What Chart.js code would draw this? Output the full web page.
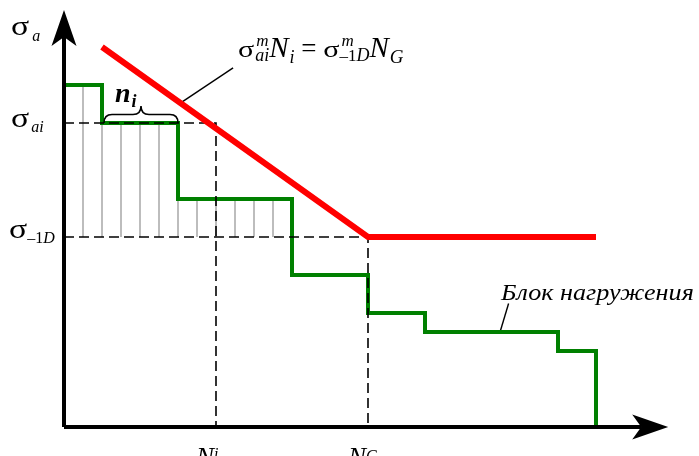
<!DOCTYPE html>
<html>
<head>
<meta charset="utf-8">
<script src="https://cdn.jsdelivr.net/npm/chart.js@4.4.1/dist/chart.umd.min.js"></script>
<style>
  html, body { margin: 0; padding: 0; background: #fff; }
  #wrap { width: 699px; height: 456px; }
</style>
</head>
<body>
<div id="wrap"><canvas id="c" width="699" height="456"></canvas></div>
<script>
// Loading block: stress level of each step and the cycle counts where the steps change
const blockLevels = [180, 160, 120, 80, 60, 50, 40];
const blockEdges  = [0, 20, 60, 120, 160, 190, 260, 280];

// Fatigue curve: sloped branch down to the knee point, then the endurance limit
const curveX = [20, 160, 280];
const curveY = [200, 100, 100];

// Reference levels
const sigmaAi = 160, Ni = 80;     // level i and its life
const sigma1D = 100, NG = 160;    // endurance limit and knee life

// Counting marks drawn under the block, above the endurance limit
const hatchX = [10, 20, 30, 40, 50, 60, 70, 80, 90, 100, 110];

// Axis extents (arrow tips)
const axisTipX = 318, axisTipY = 220;

// Leader lines for the two callouts
const formulaLeader = [[89, 189], [62, 171]];
const blockLeader   = [[234, 65], [229.5, 50]];

const SERIF = "'Liberation Serif', 'Times New Roman', serif";

// level of the block at a given cycle count
function levelAt(x) {
  for (let i = 0; i < blockLevels.length; i++) {
    if (x < blockEdges[i + 1]) return blockLevels[i];
  }
  return 0;
}

// each point carries the level that starts there; the last one drops to zero
const blockPts = blockEdges.map((x, i) => ({ x, y: i < blockLevels.length ? blockLevels[i] : 0 }));
const curvePts = curveX.map((x, i) => ({ x, y: curveY[i] }));

const hatchPts = [];
hatchX.forEach(x => {
  hatchPts.push({ x, y: sigma1D }, { x, y: levelAt(x) }, { x, y: null });
});

const pairs = a => a.map(p => ({ x: p[0], y: p[1] }));

const line = (data, color, width, extra) => Object.assign({
  data, borderColor: color, borderWidth: width, showLine: true,
  pointRadius: 0, fill: false, clip: false, spanGaps: false,
  borderCapStyle: 'butt', borderJoinStyle: 'miter'
}, extra || {});

const datasets = [
  line(curvePts, '#ff0000', 6),
  line([{ x: 0, y: 0 }, { x: 0, y: axisTipY - 14 }], '#000', 4),
  line([{ x: 0, y: 0 }, { x: axisTipX - 14, y: 0 }], '#000', 4),
  line([{ x: 0, y: sigmaAi }, { x: Ni, y: sigmaAi }, { x: Ni, y: 0 }], '#000', 1.6, { borderDash: [10, 5] }),
  line([{ x: 0, y: sigma1D }, { x: NG, y: sigma1D }, { x: NG, y: 0 }], '#000', 1.6, { borderDash: [10, 5] }),
  line(blockPts, '#008000', 4, { stepped: 'before' }),
  line(hatchPts, '#a8a8a8', 1.5),
  line(pairs(formulaLeader), '#000', 1.4),
  line(pairs(blockLeader), '#000', 1.4)
];

// draws a row of text pieces; "keep" pieces do not advance (superscript over subscript),
// "sx" stretches a piece horizontally
function drawRuns(ctx, x, y, items) {
  let cx = x, kept = 0;
  items.forEach(it => {
    ctx.font = it.f;
    const sx = it.sx || 1;
    const w = ctx.measureText(it.t).width * sx;
    const px = cx + (it.dx || 0);
    ctx.save();
    ctx.translate(px, y + (it.dy || 0));
    ctx.scale(sx, 1);
    ctx.fillText(it.t, 0, 0);
    ctx.restore();
    if (it.keep) { kept = w + (it.dx || 0); }
    else { cx += Math.max(w + (it.dx || 0), kept); kept = 0; }
  });
}

const R = s => `${s}px ${SERIF}`;
const I = s => `italic ${s}px ${SERIF}`;
const BI = s => `italic bold ${s}px ${SERIF}`;

const annotate = {
  id: 'annotate',
  afterDatasetsDraw(chart) {
    const ctx = chart.ctx;
    const xs = chart.scales.x, ys = chart.scales.y;
    const X = v => xs.getPixelForValue(v), Y = v => ys.getPixelForValue(v);
    ctx.save();
    ctx.fillStyle = '#000';
    ctx.strokeStyle = '#000';

    // arrow heads
    const arrow = (tx, ty, ang) => {
      ctx.save();
      ctx.translate(tx, ty);
      ctx.rotate(ang);
      ctx.beginPath();
      ctx.moveTo(0, 0);
      ctx.lineTo(-36, -12.5);
      ctx.lineTo(-27, 0);
      ctx.lineTo(-36, 12.5);
      ctx.closePath();
      ctx.fill();
      ctx.restore();
    };
    arrow(X(0), Y(axisTipY) + 1, -Math.PI / 2);
    arrow(X(axisTipX), Y(0), 0);

    // brace over the i-th step
    const bx1 = X(blockEdges[1]) + 2, bx2 = X(blockEdges[2]), by = Y(sigmaAi);
    const mid = (bx1 + bx2) / 2, h = 8.5;
    ctx.lineWidth = 1.6;
    ctx.beginPath();
    ctx.moveTo(bx1, by);
    ctx.quadraticCurveTo(bx1, by - h, bx1 + 8, by - h);
    ctx.lineTo(mid - 8, by - h);
    ctx.quadraticCurveTo(mid, by - h, mid, by - 2 * h);
    ctx.quadraticCurveTo(mid, by - h, mid + 8, by - h);
    ctx.lineTo(bx2 - 8, by - h);
    ctx.quadraticCurveTo(bx2, by - h, bx2, by);
    ctx.stroke();

    ctx.textBaseline = 'alphabetic';
    const SIG = { t: 'σ', f: R(27), sx: 1.25 };
    // axis labels
    drawRuns(ctx, 11, Y(axisTipY) + 26, [SIG, { t: 'a', f: I(16), dy: 6, dx: 3 }]);
    drawRuns(ctx, 11, Y(sigmaAi) + 4, [SIG, { t: 'ai', f: I(16), dy: 5, dx: 2 }]);
    drawRuns(ctx, 9, Y(sigma1D) + 1, [SIG, { t: '–1', f: R(16), dy: 5 }, { t: 'D', f: I(16), dy: 5 }]);
    drawRuns(ctx, X(Ni) - 20, 466, [{ t: 'N', f: I(27) }, { t: 'i', f: I(16), dy: -7 }]);
    drawRuns(ctx, X(NG) - 20, 466, [{ t: 'N', f: I(27) }, { t: 'G', f: I(16), dy: -5 }]);

    // n_i over the brace
    drawRuns(ctx, mid - 26, by - 21, [{ t: 'n', f: BI(28) }, { t: 'i', f: BI(18), dy: 5, dx: 1 }]);

    // Basquin relation
    const SIGf = { t: 'σ', f: R(24), sx: 1.25 };
    drawRuns(ctx, 238, 57, [
      SIGf,
      { t: 'm', f: I(17), dy: -11, dx: 2, keep: true },
      { t: 'ai', f: I(18), dy: 4, dx: 1 },
      { t: 'N', f: I(29) },
      { t: 'i', f: I(18), dy: 6, dx: 1 },
      { t: ' = ', f: R(27) },
      SIGf,
      { t: 'm', f: I(17), dy: -11, dx: 2, keep: true },
      { t: '–1', f: R(17), dy: 4 },
      { t: 'D', f: I(18), dy: 4 },
      { t: 'N', f: I(29) },
      { t: 'G', f: I(19), dy: 6, dx: 1 }
    ]);

    // loading block callout
    drawRuns(ctx, 501, 300, [{ t: 'Блок нагружения', f: I(24), sx: 1.09 }]);
    ctx.restore();
  }
};

new Chart(document.getElementById('c').getContext('2d'), {
  type: 'scatter',
  data: { datasets },
  options: {
    responsive: false,
    animation: false,
    devicePixelRatio: 1,
    layout: { padding: { left: 64, right: 27, top: 9, bottom: 29 } },
    plugins: { legend: { display: false }, tooltip: { enabled: false } },
    scales: {
      x: { type: 'linear', min: 0, max: 320, display: false },
      y: { type: 'linear', min: 0, max: 220, display: false }
    },
    elements: { point: { radius: 0 }, line: { tension: 0 } }
  },
  plugins: [annotate]
});
</script>
</body>
</html>
